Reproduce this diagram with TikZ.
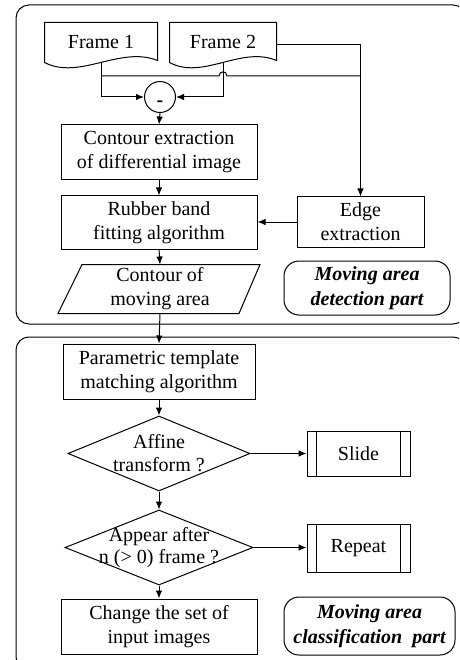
\documentclass[tikz,border=0pt]{standalone}
\usepackage{fontspec}
\setmainfont{Liberation Serif}
\usetikzlibrary{arrows.meta,shapes.geometric,calc}
\newcommand{\docshape}[1]{%
  \draw (#1.north west) -- (#1.north east) -- (#1.south east)
    .. controls ($(#1.south east)!0.33!(#1.south west)+(0,-15)$) and ($(#1.south east)!0.69!(#1.south west)+(0,20)$) .. ($(#1.south west)+(0,2)$) -- cycle;}
\begin{document}
\begin{tikzpicture}[x=1pt,y=-1pt,line width=1pt,
  every node/.style={font=\fontsize{20}{24}\selectfont, inner sep=0pt},
  box/.style={draw, rectangle, align=center, minimum width=196pt, minimum height=55pt},
  docbox/.style={rectangle, minimum width=112pt, minimum height=37pt},
  dia/.style={draw, diamond, minimum width=182pt, minimum height=75pt},
  pbox/.style={draw, rectangle, minimum width=103pt, minimum height=45pt},
  lab/.style={draw, align=center, rounded corners=15pt, font=\fontsize{20}{25}\selectfont\bfseries\itshape},
  group/.style={draw, rounded corners=13pt},
  arr/.style={-{Latex[length=8pt,width=6.5pt]}}]
\useasboundingbox (0,0) rectangle (459,660);
\begin{scope}
\clip (0,0) rectangle (459,660);
\draw[group] (16,5) rectangle (466,324);
\draw[group] (16,337) rectangle (466,670);
\end{scope}

% top part
\node[docbox] (f1) at (101,41.5) {Frame 1};
\node[docbox, minimum width=106pt] (f2) at (223,41.5) {Frame 2};
\docshape{f1}
\docshape{f2}
\coordinate (f1w) at (101,62);
\coordinate (f2w) at (223,62);
\coordinate (j1) at (101,76);
\coordinate (hopL) at (219,76);
\coordinate (hopR) at (227,76);
\coordinate (ej) at (361,76);
\node[draw, circle, minimum size=31pt,
  label={[anchor=base, yshift=-7pt, font=\fontsize{20}{24}\selectfont\bfseries]center:-}] (minus) at (160,97) {};
\node[box] (ce) at (159,152.5) {Contour extraction\\of differential image};
\node[box, minimum height=53pt] (rb) at (159,222.5) {Rubber band\\fitting algorithm};
\node[draw, rectangle, align=center, minimum width=127pt, minimum height=50pt] (edge) at (360.5,222) {Edge\\extraction};
\node[align=center, minimum width=180pt, minimum height=48pt] (cm) at (160,289) {Contour of\\moving area};
\draw ($(cm.north)+(-78,0)$) -- ($(cm.north)+(100,0)$) -- ($(cm.south)+(79,0)$) -- ($(cm.south)+(-102,0)$) -- cycle;
\node[lab, minimum width=166pt, minimum height=54pt] (lab1) at (367,288) {Moving area\\detection part};

\draw[arr] (f1w) |- (minus.west);
\draw[arr] (f2w) |- (minus.east);
\draw (j1) -- (hopL) .. controls +(0,-5.5) and +(0,-5.5) .. (hopR) -- (ej);
\draw[arr] ([yshift=-3.5pt]f2.east) -| (edge.north);
\draw[arr] (minus.south) -- (ce.north);
\draw[arr] (ce.south) -- (rb.north);
\draw[arr] (edge.west) -- (edge.west -| rb.east);
\draw[arr] (rb.south) -- (cm.north);

% bottom part
\node[box, minimum width=192pt] (ptm) at (159,371.5) {Parametric template\\matching algorithm};
\node[dia, label={[align=center, font=\fontsize{20}{23}\selectfont]center:Affine\\transform ?}] (d1) at (159,453.5) {};
\node[pbox] (slide) at (358.5,453.5) {Slide};
\draw ([xshift=10pt]slide.north west) -- ([xshift=10pt]slide.south west);
\draw ([xshift=-10pt]slide.north east) -- ([xshift=-10pt]slide.south east);
\node[dia, minimum width=188pt, label={[align=center, font=\fontsize{20}{22}\selectfont]center:Appear after\\n (> 0) frame ?}] (d2) at (159,547.5) {};
\node[pbox, minimum height=48pt] (rep) at (358.5,548) {Repeat};
\draw ([xshift=10pt]rep.north west) -- ([xshift=10pt]rep.south west);
\draw ([xshift=-10pt]rep.north east) -- ([xshift=-10pt]rep.south east);
\node[box] (chg) at (159,626.5) {Change the set of\\input images};
\node[lab, minimum width=171pt, minimum height=58pt] (lab2) at (369.5,626) {Moving area\\classification~ part};

\draw[arr] (cm.south) -- (ptm.north);
\draw[arr] (ptm.south) -- (d1.north);
\draw[arr] (d1.east) -- (slide.west);
\draw[arr] (d1.south) -- (d2.north);
\draw[arr] (d2.east) -- (d2.east -| rep.west);
\draw[arr] (d2.south) -- (chg.north);
\end{tikzpicture}
\end{document}
